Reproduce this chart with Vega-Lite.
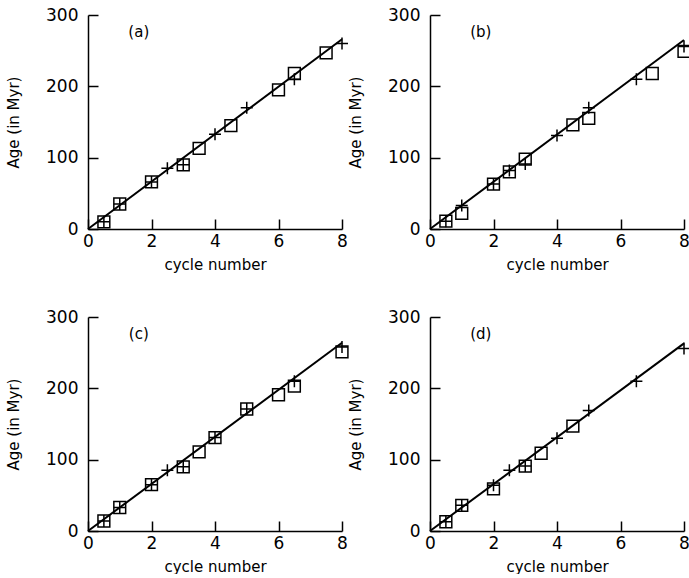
{
  "$schema": "https://vega.github.io/schema/vega-lite/v6.json",
  "background": "white",
  "padding": {"left": 6, "top": 6, "right": 0, "bottom": 0},
  "bounds": "flush",
  "columns": 2,
  "spacing": {"row": 88, "column": 88},
  "datasets": {
    "points": [
      {"panel": "a", "type": "square", "x": 0.5, "y": 10},
      {"panel": "a", "type": "square", "x": 1, "y": 35},
      {"panel": "a", "type": "square", "x": 2, "y": 66},
      {"panel": "a", "type": "square", "x": 3, "y": 90},
      {"panel": "a", "type": "square", "x": 3.5, "y": 113},
      {"panel": "a", "type": "square", "x": 4.5, "y": 145},
      {"panel": "a", "type": "square", "x": 6, "y": 195},
      {"panel": "a", "type": "square", "x": 6.5, "y": 218},
      {"panel": "a", "type": "square", "x": 7.5, "y": 247},
      {"panel": "a", "type": "plus", "x": 0.5, "y": 10},
      {"panel": "a", "type": "plus", "x": 1, "y": 35},
      {"panel": "a", "type": "plus", "x": 2, "y": 66},
      {"panel": "a", "type": "plus", "x": 2.5, "y": 85},
      {"panel": "a", "type": "plus", "x": 3, "y": 90},
      {"panel": "a", "type": "plus", "x": 4, "y": 133},
      {"panel": "a", "type": "plus", "x": 5, "y": 170},
      {"panel": "a", "type": "plus", "x": 6.5, "y": 210},
      {"panel": "a", "type": "plus", "x": 8, "y": 260},
      {"panel": "b", "type": "square", "x": 0.5, "y": 11},
      {"panel": "b", "type": "square", "x": 1, "y": 22},
      {"panel": "b", "type": "square", "x": 2, "y": 63},
      {"panel": "b", "type": "square", "x": 2.5, "y": 80},
      {"panel": "b", "type": "square", "x": 3, "y": 98},
      {"panel": "b", "type": "square", "x": 4.5, "y": 146},
      {"panel": "b", "type": "square", "x": 5, "y": 155},
      {"panel": "b", "type": "square", "x": 7, "y": 218},
      {"panel": "b", "type": "square", "x": 8, "y": 249},
      {"panel": "b", "type": "plus", "x": 0.5, "y": 11},
      {"panel": "b", "type": "plus", "x": 1, "y": 33},
      {"panel": "b", "type": "plus", "x": 2, "y": 63},
      {"panel": "b", "type": "plus", "x": 2.5, "y": 82},
      {"panel": "b", "type": "plus", "x": 3, "y": 91},
      {"panel": "b", "type": "plus", "x": 4, "y": 131},
      {"panel": "b", "type": "plus", "x": 5, "y": 170},
      {"panel": "b", "type": "plus", "x": 6.5, "y": 210},
      {"panel": "b", "type": "plus", "x": 8, "y": 256},
      {"panel": "c", "type": "square", "x": 0.5, "y": 14},
      {"panel": "c", "type": "square", "x": 1, "y": 33},
      {"panel": "c", "type": "square", "x": 2, "y": 65},
      {"panel": "c", "type": "square", "x": 3, "y": 90},
      {"panel": "c", "type": "square", "x": 3.5, "y": 111},
      {"panel": "c", "type": "square", "x": 4, "y": 131},
      {"panel": "c", "type": "square", "x": 5, "y": 171},
      {"panel": "c", "type": "square", "x": 6, "y": 191},
      {"panel": "c", "type": "square", "x": 6.5, "y": 203},
      {"panel": "c", "type": "square", "x": 8, "y": 251},
      {"panel": "c", "type": "plus", "x": 0.5, "y": 14},
      {"panel": "c", "type": "plus", "x": 1, "y": 33},
      {"panel": "c", "type": "plus", "x": 2, "y": 65},
      {"panel": "c", "type": "plus", "x": 2.5, "y": 85},
      {"panel": "c", "type": "plus", "x": 3, "y": 90},
      {"panel": "c", "type": "plus", "x": 4, "y": 131},
      {"panel": "c", "type": "plus", "x": 5, "y": 171},
      {"panel": "c", "type": "plus", "x": 6.5, "y": 210},
      {"panel": "c", "type": "plus", "x": 8, "y": 258},
      {"panel": "d", "type": "square", "x": 0.5, "y": 13},
      {"panel": "d", "type": "square", "x": 1, "y": 36},
      {"panel": "d", "type": "square", "x": 2, "y": 59},
      {"panel": "d", "type": "square", "x": 3, "y": 91},
      {"panel": "d", "type": "square", "x": 3.5, "y": 109},
      {"panel": "d", "type": "square", "x": 4.5, "y": 147},
      {"panel": "d", "type": "plus", "x": 0.5, "y": 13},
      {"panel": "d", "type": "plus", "x": 1, "y": 36},
      {"panel": "d", "type": "plus", "x": 2, "y": 64},
      {"panel": "d", "type": "plus", "x": 2.5, "y": 85},
      {"panel": "d", "type": "plus", "x": 3, "y": 91},
      {"panel": "d", "type": "plus", "x": 4, "y": 130},
      {"panel": "d", "type": "plus", "x": 5, "y": 169},
      {"panel": "d", "type": "plus", "x": 6.5, "y": 210},
      {"panel": "d", "type": "plus", "x": 8, "y": 256}
    ],
    "lines": [
      {"panel": "a", "x": 0, "y": 0}, {"panel": "a", "x": 8, "y": 266},
      {"panel": "b", "x": 0, "y": 0}, {"panel": "b", "x": 8, "y": 265},
      {"panel": "c", "x": 0, "y": 0}, {"panel": "c", "x": 8, "y": 264},
      {"panel": "d", "x": 0, "y": 0}, {"panel": "d", "x": 8, "y": 263}
    ],
    "labels": [
      {"panel": "a", "label": "(a)"},
      {"panel": "b", "label": "(b)"},
      {"panel": "c", "label": "(c)"},
      {"panel": "d", "label": "(d)"}
    ]
  },
  "concat": [
    {
      "width": 254, "height": 214,
      "layer": [
        {"data": {"name": "lines"}, "transform": [{"filter": "datum.panel === 'a'"}], "mark": {"type": "line", "color": "black", "strokeWidth": 2}, "encoding": {"x": {"field": "x", "type": "quantitative", "scale": {"domain": [0, 8]}, "axis": {"values": [0, 2, 4, 6, 8]}, "title": "cycle number"}, "y": {"field": "y", "type": "quantitative", "scale": {"domain": [0, 300]}, "axis": {"values": [0, 100, 200, 300]}, "title": "Age (in Myr)"}}},
        {"data": {"name": "points"}, "transform": [{"filter": "datum.panel === 'a' && datum.type === 'square'"}], "mark": {"type": "point", "shape": "square", "filled": false, "size": 140, "stroke": "black", "strokeWidth": 1.5, "opacity": 1}, "encoding": {"x": {"field": "x", "type": "quantitative"}, "y": {"field": "y", "type": "quantitative"}}},
        {"data": {"name": "points"}, "transform": [{"filter": "datum.panel === 'a' && datum.type === 'plus'"}], "mark": {"type": "point", "shape": "M-1,0L1,0M0,-1L0,1", "filled": false, "size": 144, "stroke": "black", "strokeWidth": 1.5, "opacity": 1}, "encoding": {"x": {"field": "x", "type": "quantitative"}, "y": {"field": "y", "type": "quantitative"}}},
        {"data": {"name": "labels"}, "transform": [{"filter": "datum.panel === 'a'"}], "mark": {"type": "text", "font": "DejaVu Sans", "fontSize": 15, "color": "black"}, "encoding": {"x": {"datum": 1.6}, "y": {"datum": 276}, "text": {"field": "label"}}}
      ]
    },
    {
      "width": 254, "height": 214,
      "layer": [
        {"data": {"name": "lines"}, "transform": [{"filter": "datum.panel === 'b'"}], "mark": {"type": "line", "color": "black", "strokeWidth": 2}, "encoding": {"x": {"field": "x", "type": "quantitative", "scale": {"domain": [0, 8]}, "axis": {"values": [0, 2, 4, 6, 8]}, "title": "cycle number"}, "y": {"field": "y", "type": "quantitative", "scale": {"domain": [0, 300]}, "axis": {"values": [0, 100, 200, 300]}, "title": "Age (in Myr)"}}},
        {"data": {"name": "points"}, "transform": [{"filter": "datum.panel === 'b' && datum.type === 'square'"}], "mark": {"type": "point", "shape": "square", "filled": false, "size": 140, "stroke": "black", "strokeWidth": 1.5, "opacity": 1}, "encoding": {"x": {"field": "x", "type": "quantitative"}, "y": {"field": "y", "type": "quantitative"}}},
        {"data": {"name": "points"}, "transform": [{"filter": "datum.panel === 'b' && datum.type === 'plus'"}], "mark": {"type": "point", "shape": "M-1,0L1,0M0,-1L0,1", "filled": false, "size": 144, "stroke": "black", "strokeWidth": 1.5, "opacity": 1}, "encoding": {"x": {"field": "x", "type": "quantitative"}, "y": {"field": "y", "type": "quantitative"}}},
        {"data": {"name": "labels"}, "transform": [{"filter": "datum.panel === 'b'"}], "mark": {"type": "text", "font": "DejaVu Sans", "fontSize": 15, "color": "black"}, "encoding": {"x": {"datum": 1.6}, "y": {"datum": 276}, "text": {"field": "label"}}}
      ]
    },
    {
      "width": 254, "height": 214,
      "layer": [
        {"data": {"name": "lines"}, "transform": [{"filter": "datum.panel === 'c'"}], "mark": {"type": "line", "color": "black", "strokeWidth": 2}, "encoding": {"x": {"field": "x", "type": "quantitative", "scale": {"domain": [0, 8]}, "axis": {"values": [0, 2, 4, 6, 8]}, "title": "cycle number"}, "y": {"field": "y", "type": "quantitative", "scale": {"domain": [0, 300]}, "axis": {"values": [0, 100, 200, 300]}, "title": "Age (in Myr)"}}},
        {"data": {"name": "points"}, "transform": [{"filter": "datum.panel === 'c' && datum.type === 'square'"}], "mark": {"type": "point", "shape": "square", "filled": false, "size": 140, "stroke": "black", "strokeWidth": 1.5, "opacity": 1}, "encoding": {"x": {"field": "x", "type": "quantitative"}, "y": {"field": "y", "type": "quantitative"}}},
        {"data": {"name": "points"}, "transform": [{"filter": "datum.panel === 'c' && datum.type === 'plus'"}], "mark": {"type": "point", "shape": "M-1,0L1,0M0,-1L0,1", "filled": false, "size": 144, "stroke": "black", "strokeWidth": 1.5, "opacity": 1}, "encoding": {"x": {"field": "x", "type": "quantitative"}, "y": {"field": "y", "type": "quantitative"}}},
        {"data": {"name": "labels"}, "transform": [{"filter": "datum.panel === 'c'"}], "mark": {"type": "text", "font": "DejaVu Sans", "fontSize": 15, "color": "black"}, "encoding": {"x": {"datum": 1.6}, "y": {"datum": 276}, "text": {"field": "label"}}}
      ]
    },
    {
      "width": 254, "height": 214,
      "layer": [
        {"data": {"name": "lines"}, "transform": [{"filter": "datum.panel === 'd'"}], "mark": {"type": "line", "color": "black", "strokeWidth": 2}, "encoding": {"x": {"field": "x", "type": "quantitative", "scale": {"domain": [0, 8]}, "axis": {"values": [0, 2, 4, 6, 8]}, "title": "cycle number"}, "y": {"field": "y", "type": "quantitative", "scale": {"domain": [0, 300]}, "axis": {"values": [0, 100, 200, 300]}, "title": "Age (in Myr)"}}},
        {"data": {"name": "points"}, "transform": [{"filter": "datum.panel === 'd' && datum.type === 'square'"}], "mark": {"type": "point", "shape": "square", "filled": false, "size": 140, "stroke": "black", "strokeWidth": 1.5, "opacity": 1}, "encoding": {"x": {"field": "x", "type": "quantitative"}, "y": {"field": "y", "type": "quantitative"}}},
        {"data": {"name": "points"}, "transform": [{"filter": "datum.panel === 'd' && datum.type === 'plus'"}], "mark": {"type": "point", "shape": "M-1,0L1,0M0,-1L0,1", "filled": false, "size": 144, "stroke": "black", "strokeWidth": 1.5, "opacity": 1}, "encoding": {"x": {"field": "x", "type": "quantitative"}, "y": {"field": "y", "type": "quantitative"}}},
        {"data": {"name": "labels"}, "transform": [{"filter": "datum.panel === 'd'"}], "mark": {"type": "text", "font": "DejaVu Sans", "fontSize": 15, "color": "black"}, "encoding": {"x": {"datum": 1.6}, "y": {"datum": 276}, "text": {"field": "label"}}}
      ]
    }
  ],
  "config": {
    "view": {"stroke": null},
    "font": "DejaVu Sans",
    "axis": {
      "grid": false,
      "domainColor": "black",
      "domainWidth": 1.5,
      "tickColor": "black",
      "tickWidth": 1.5,
      "tickSize": -10,
      "labelColor": "black",
      "labelFont": "DejaVu Sans",
      "labelFontSize": 17,
      "titleFont": "DejaVu Sans",
      "titleFontSize": 15,
      "titleFontWeight": "normal",
      "titleColor": "black"
    },
    "axisX": {"labelPadding": 14, "titlePadding": 8, "labelFlush": false},
    "axisY": {"labelPadding": 20, "titlePadding": 24, "labelFlush": false}
  }
}
